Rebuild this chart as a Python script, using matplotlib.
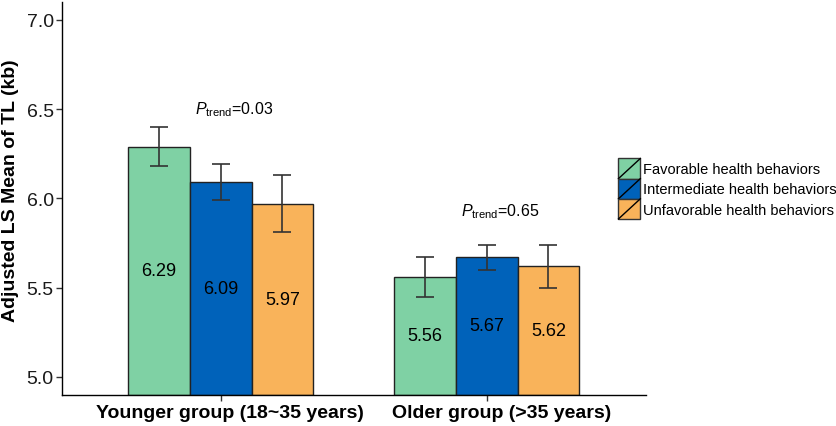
import matplotlib
matplotlib.use("Agg")
import matplotlib.pyplot as plt
import numpy as np
from matplotlib.patches import Rectangle
from matplotlib.lines import Line2D
from matplotlib.legend_handler import HandlerBase
from matplotlib.transforms import ScaledTranslation, blended_transform_factory

plt.rcParams['font.family'] = ['Liberation Sans', 'DejaVu Sans']
plt.rcParams['mathtext.fontset'] = 'custom'
plt.rcParams['mathtext.rm'] = 'Liberation Sans'
plt.rcParams['mathtext.it'] = 'Liberation Sans:italic'

groups = ["Younger group (18~35 years)", "Older group (>35 years)"]
series = ["Favorable health behaviors", "Intermediate health behaviors", "Unfavorable health behaviors"]
means = {
    "Favorable health behaviors": [6.29, 5.56],
    "Intermediate health behaviors": [6.09, 5.67],
    "Unfavorable health behaviors": [5.97, 5.62],
}
errs = {
    "Favorable health behaviors": [0.11, 0.11],
    "Intermediate health behaviors": [0.10, 0.07],
    "Unfavorable health behaviors": [0.16, 0.12],
}
colors = ["#7FD1A4", "#0062BA", "#F9B35A"]
p_labels = ["0.03", "0.65"]
p_label_y = [6.50, 5.93]

fig = plt.figure(figsize=(8.37, 4.27), dpi=100)
ax = fig.add_axes([62/837, 1-395.7/427, (646-62)/837, (395.7-3)/427])

x = np.arange(len(groups))
w = 0.232
ymin = 4.9
for i, s in enumerate(series):
    xs = x + (i-1)*w
    vals = np.array(means[s])
    ax.bar(xs, vals - ymin, bottom=ymin, width=w, color=colors[i], edgecolor="#222222", linewidth=1.0, zorder=2)
    ax.errorbar(xs, vals, yerr=errs[s], fmt='none', ecolor="#333333", elinewidth=1.2, capsize=6.2, capthick=1.2, zorder=3)
    for xx, v in zip(xs, vals):
        ax.text(xx, (v + ymin)/2, f"{v:.2f}", ha='center', va='center', fontsize=13, color='black', zorder=4)

for gi in range(len(groups)):
    ax.text(x[gi] + 0.05, p_label_y[gi], r'$\mathit{P}_{\mathrm{trend}}$' + '=' + p_labels[gi],
            ha='center', va='center', fontsize=11.5)

ax.set_xlim(-0.597, 1.599)
ax.set_ylim(4.9, 7.1)
ax.set_yticks([5.0, 5.5, 6.0, 6.5, 7.0])
ax.set_yticklabels(["5.0", "5.5", "6.0", "6.5", "7.0"], fontsize=14, color="#1a1a1a")
ax.set_xticks(x)
ax.set_xticklabels([])
base = blended_transform_factory(ax.transData, ax.transAxes)
for gi, dx in zip(range(len(groups)), [9, 15]):
    ax.text(x[gi], 0, groups[gi], fontsize=14, fontweight='bold', ha='center', va='top',
            transform=base + ScaledTranslation(dx/100, -9/100, fig.dpi_scale_trans), clip_on=False)
ax.tick_params(axis='y', length=4, width=1, color="#333333", pad=2)
ax.tick_params(axis='x', length=4, width=1, color="#333333", pad=5)
ax.spines['top'].set_visible(False)
ax.spines['right'].set_visible(False)
ax.spines['left'].set_linewidth(1.0)
ax.spines['bottom'].set_linewidth(1.0)
ax.set_ylabel("Adjusted LS Mean of TL (kb)", fontsize=14, fontweight='bold')
ax.yaxis.set_label_coords((19 - 62)/584, (395.7 - 191)/392.7)


class HandlerSlashBox(HandlerBase):
    def __init__(self, color):
        super().__init__()
        self.color = color

    def create_artists(self, legend, orig_handle, xdescent, ydescent, width, height, fontsize, trans):
        r = Rectangle((-xdescent, -ydescent), width, height, facecolor=self.color,
                      edgecolor="#333333", linewidth=1.0, transform=trans)
        l = Line2D([-xdescent, -xdescent + width], [-ydescent, -ydescent + height],
                   color="black", linewidth=1.0, transform=trans)
        return [r, l]


handles = [Rectangle((0, 0), 1, 1) for _ in series]
hmap = {h: HandlerSlashBox(c) for h, c in zip(handles, colors)}
leg = fig.legend(handles, series, handler_map=hmap, loc='upper left',
                 bbox_to_anchor=(617/837, 1-158/427), frameon=False, fontsize=10.5,
                 handlelength=1.5, handleheight=1.75, handletextpad=0.2, labelspacing=0.0,
                 borderaxespad=0, borderpad=0.1)

fig.savefig("out.png", dpi=100)
